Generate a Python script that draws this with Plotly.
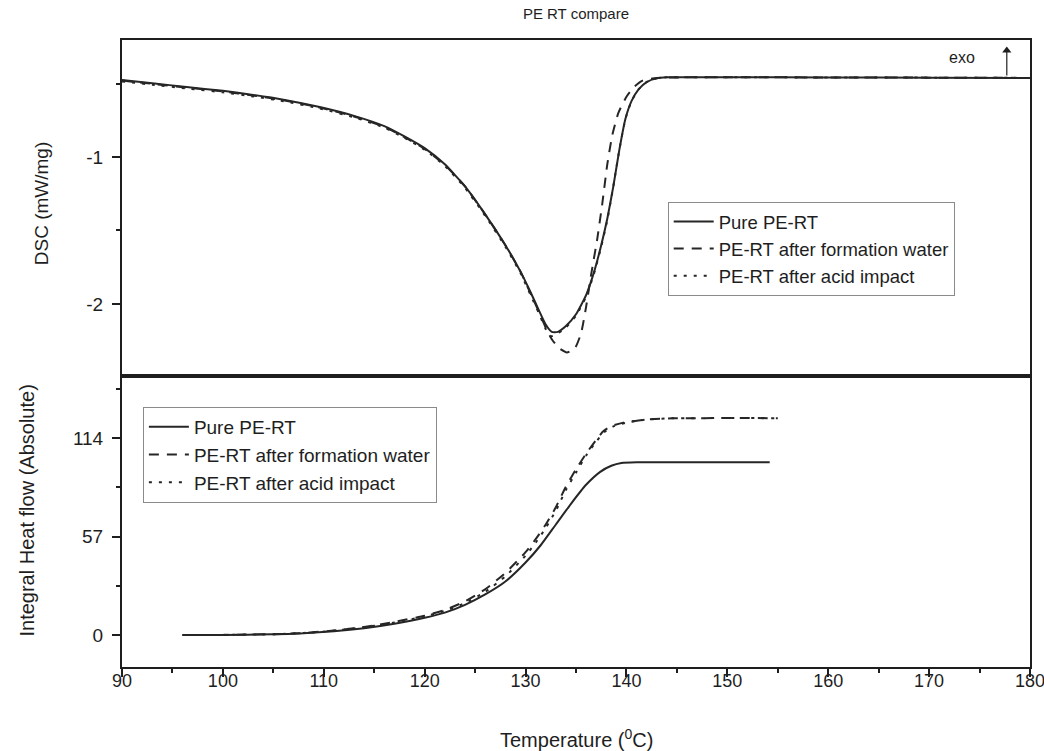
import plotly.graph_objects as go

# ---------------- data ----------------
series_names = ["Pure PE-RT", "PE-RT after formation water", "PE-RT after acid impact"]

# DSC (mW/mg) vs temperature
dsc_pure_t = [90, 93, 96.4, 100, 103, 106, 109.6, 113, 116, 118, 120, 122, 124, 126, 128, 129.5, 130.5, 131.3,
              132, 132.6, 133.2, 134, 135, 136, 136.8, 137.5, 138.1, 138.7, 139.3, 139.9, 140.5, 141.2, 142,
              143, 144, 150, 160, 170, 180]
dsc_pure_v = [-0.476, -0.498, -0.524, -0.55, -0.578, -0.61, -0.66, -0.72, -0.79, -0.86, -0.94, -1.05, -1.20,
              -1.39, -1.60, -1.78, -1.92, -2.04, -2.14, -2.19, -2.19, -2.15, -2.07, -1.94, -1.78, -1.60, -1.42,
              -1.20, -0.95, -0.74, -0.62, -0.54, -0.49, -0.465, -0.458, -0.457, -0.459, -0.46, -0.462]

dsc_water_t = [90, 93, 96.4, 100, 103, 106, 109.6, 113, 116, 118, 120, 122, 124, 126, 128, 129.5, 130.5, 131.3,
               132, 132.6, 133.3, 134.1, 134.9, 135.5, 136, 136.5, 137.1, 137.6, 138.1, 138.6, 139.2, 140,
               140.8, 141.6, 143, 150, 160, 170, 180]
dsc_water_v = [-0.48, -0.502, -0.528, -0.554, -0.582, -0.614, -0.664, -0.724, -0.795, -0.865, -0.945, -1.055,
               -1.20, -1.39, -1.60, -1.78, -1.93, -2.05, -2.16, -2.24, -2.30, -2.33, -2.30, -2.20, -2.02, -1.80,
               -1.56, -1.32, -1.05, -0.85, -0.70, -0.59, -0.52, -0.48, -0.462, -0.457, -0.459, -0.46, -0.462]

dsc_acid_t = [90, 93, 96.4, 100, 103, 106, 109.6, 113, 116, 118, 120, 122, 124, 126, 128, 129.5, 130.5, 131.3,
              132, 132.5, 133.2, 134, 135, 136, 136.8, 137.5, 138.1, 138.7, 139.3, 139.9, 140.5, 141.2, 142,
              143, 144, 150, 160, 170, 180]
dsc_acid_v = [-0.486, -0.508, -0.534, -0.56, -0.588, -0.62, -0.67, -0.73, -0.80, -0.87, -0.95, -1.06, -1.21,
              -1.40, -1.61, -1.79, -1.94, -2.06, -2.17, -2.22, -2.20, -2.16, -2.08, -1.95, -1.79, -1.61, -1.43,
              -1.20, -0.95, -0.74, -0.62, -0.54, -0.49, -0.465, -0.458, -0.457, -0.459, -0.46, -0.462]

# Integral heat flow (absolute) vs temperature
hf_pure_t = [96, 100, 105, 108, 111, 114, 117, 120, 122, 124, 126, 128, 130, 131.5, 133, 134.5, 136, 137.4,
             138.5, 139.5, 141, 145, 154.2]
hf_pure_v = [0, 0.1, 0.4, 1.0, 2.2, 4.0, 6.6, 10, 13, 17.5, 23.5, 31, 42, 52, 64, 76, 87, 94.5, 98, 99.6, 100,
             100, 100]

hf_water_t = [96, 100, 105, 108, 111, 114, 117, 120, 122, 124, 126, 128, 130, 131, 132, 133, 134, 135, 136,
              137, 137.7, 138.5, 139.7, 142, 144.6, 155]
hf_water_v = [0, 0.1, 0.5, 1.2, 2.6, 4.7, 7.6, 11.2, 14.5, 19.5, 26.5, 36, 48, 55.5, 64, 74, 86, 96, 105, 113,
              118, 121, 123, 124.8, 125.5, 125.6]

hf_acid_t = [96, 100, 105, 108, 111, 114, 117, 120, 122, 124, 126, 128, 130, 131, 132, 133, 134, 135, 136,
             137, 137.8, 138.7, 140, 142, 144.6, 155]
hf_acid_v = [0, 0.1, 0.5, 1.2, 2.5, 4.5, 7.3, 10.8, 14, 18.5, 25, 34, 46, 53.5, 62, 72, 84, 94, 104, 112,
             117.5, 120.8, 123, 124.8, 125.5, 125.6]

x_ticks = [90, 100, 110, 120, 130, 140, 150, 160, 170, 180]
dsc_ticks = [-2, -1]
dsc_ticktext = ["-2", "-1"]
hf_ticks = [0, 57, 114]

# ---------------- figure ----------------
LINE = "#262626"
INK = "#1e1e1e"
FONT = "Liberation Sans, Arial, sans-serif"
dashes = ["solid", "10px,8px", "3px,7px"]

fig = go.Figure()
dsc_data = [(dsc_pure_t, dsc_pure_v), (dsc_water_t, dsc_water_v), (dsc_acid_t, dsc_acid_v)]
hf_data = [(hf_pure_t, hf_pure_v), (hf_water_t, hf_water_v), (hf_acid_t, hf_acid_v)]

for i, (t, v) in enumerate(dsc_data):
    fig.add_trace(go.Scatter(x=t, y=v, mode="lines", name=series_names[i],
                             line=dict(color=LINE, width=2, dash=dashes[i], shape="spline", smoothing=0.5),
                             xaxis="x2", yaxis="y2", legend="legend"))
for i, (t, v) in enumerate(hf_data):
    fig.add_trace(go.Scatter(x=t, y=v, mode="lines", name=series_names[i],
                             line=dict(color=LINE, width=2, dash=dashes[i], shape="spline", smoothing=0.5),
                             xaxis="x", yaxis="y", legend="legend2"))

# exo arrow in the DSC panel
fig.add_trace(go.Scatter(x=[177.7, 177.7], y=[-0.445, -0.275], mode="lines", line=dict(color=INK, width=1.2),
                         xaxis="x2", yaxis="y2", showlegend=False, hoverinfo="skip"))
fig.add_trace(go.Scatter(x=[177.7], y=[-0.275], mode="markers",
                         marker=dict(symbol="triangle-up", size=8, color=INK),
                         xaxis="x2", yaxis="y2", showlegend=False, hoverinfo="skip"))

split = 291 / 627
axis_common = dict(showline=True, linecolor=INK, linewidth=2, mirror=True, showgrid=False, zeroline=False,
                   ticks="outside", ticklen=8, tickwidth=1.5, tickcolor=INK, automargin=False,
                   ticklabeloverflow="allow", tickfont=dict(family=FONT, size=19, color=INK))

fig.update_layout(
    width=1044, height=751,
    margin=dict(l=122, r=14, t=40, b=84),
    paper_bgcolor="white", plot_bgcolor="white",
    font=dict(family=FONT, size=18, color=INK),
    title=dict(text="PE RT compare", x=0.5517, xanchor="center", y=0.9814, yanchor="middle",
               font=dict(family=FONT, size=15, color=INK)),
    xaxis=dict(range=[90, 180], tickvals=x_ticks, anchor="y", domain=[0, 1], ticklabelstandoff=-12,
               minor=dict(ticks="outside", dtick=5, ticklen=4, tickwidth=1.5, tickcolor=INK),
               **{**axis_common, "tickfont": dict(family=FONT, size=18, color=INK)}),
    xaxis2=dict(range=[90, 180], anchor="y2", matches="x", showticklabels=False, domain=[0, 1],
                **{**axis_common, "ticks": ""}),
    yaxis=dict(range=[-18.5, 150], tickvals=hf_ticks, domain=[0, split], anchor="x", ticklabelstandoff=5,
               minor=dict(ticks="outside", tickvals=[28.5, 85.5, 142.5], ticklen=4, tickwidth=1.5, tickcolor=INK),
               **axis_common),
    yaxis2=dict(range=[-2.49, -0.204], tickvals=dsc_ticks, ticktext=dsc_ticktext, domain=[split, 1], anchor="x2",
                ticklabelstandoff=5,
                minor=dict(ticks="outside", tickvals=[-1.5, -0.5], ticklen=4, tickwidth=1.5, tickcolor=INK),
                **axis_common),
    legend=dict(x=0.601, y=0.7416, xanchor="left", yanchor="top", bgcolor="white",
                bordercolor="#8a8a8a", borderwidth=1, font=dict(family=FONT, size=18.5, color=INK),
                tracegroupgap=0, itemwidth=40),
    legend2=dict(x=0.023, y=0.4147, xanchor="left", yanchor="top", bgcolor="white",
                 bordercolor="#8a8a8a", borderwidth=1, font=dict(family=FONT, size=19, color=INK),
                 tracegroupgap=0, itemwidth=40),
    showlegend=True,
)

# axis titles
fig.add_annotation(text="Temperature (<sup>0</sup>C)", xref="paper", yref="paper", x=0.5, y=-0.1148,
                   xanchor="center", yanchor="middle", showarrow=False, font=dict(family=FONT, size=20, color=INK))
fig.add_annotation(text="DSC (mW/mg)", xref="paper", yref="paper", x=0, xshift=-81, y=(split + 1) / 2 + 0.006,
                   xanchor="center", yanchor="middle", textangle=-90, showarrow=False,
                   font=dict(family=FONT, size=19, color=INK))
fig.add_annotation(text="Integral Heat flow (Absolute)", xref="paper", yref="paper", x=0, xshift=-95,
                   y=split / 2 + 0.0175, xanchor="center", yanchor="middle", textangle=-90, showarrow=False,
                   font=dict(family=FONT, size=20, color=INK))
fig.add_annotation(x=173.3, y=-0.32, xref="x2", yref="y2", text="exo", showarrow=False,
                   font=dict(family=FONT, size=16, color=INK))

# remove the default page margin so the figure sits at the window's corner
fig.write_html("out.html", config={"displayModeBar": False},
               post_script="document.body.style.margin='0';document.body.style.overflow='hidden';")
